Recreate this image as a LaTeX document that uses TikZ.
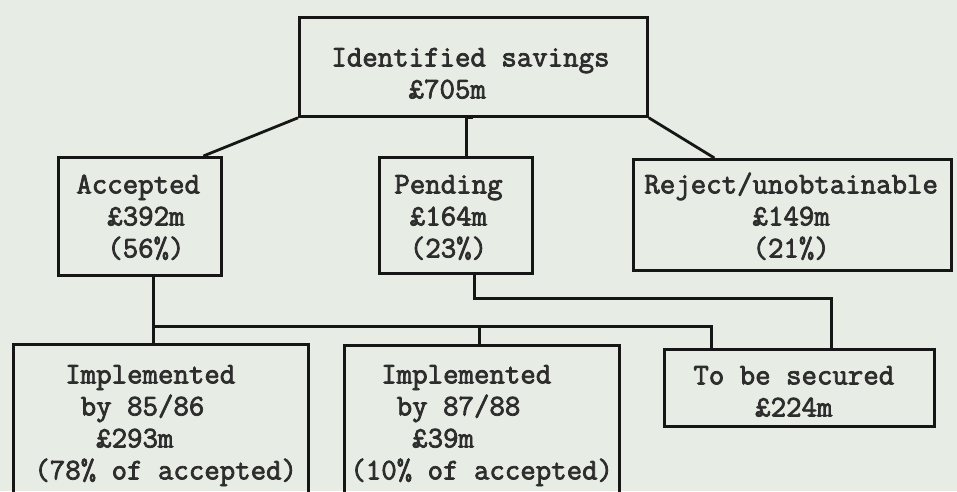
\documentclass[tikz,border=0pt]{standalone}
\usepackage{fontspec}
\newfontfamily\typer{lmmono12-regular.otf}[FakeBold=2.5]
\newcommand\ind[1]{\hspace*{#1\fontcharwd\font`\0}}
\newcommand\up[1]{\rule{0pt}{#1pt}}
\newcommand\dn[1]{\rule[-#1pt]{0pt}{0pt}}
\definecolor{paper}{RGB}{231,236,228}
\definecolor{ink}{RGB}{22,22,22}
\begin{document}
\begin{tikzpicture}[x=1pt,y=-1pt,
    box/.style 2 args={draw=ink,line width=2.8pt,anchor=north west,inner sep=0pt,
        text width=#1pt,align=left,text=ink!90,
        execute at begin node={\leftskip=#2pt\relax\spaceskip=0pt\relax\xspaceskip=0pt\relax},
        font=\typer\fontsize{30}{32}\selectfont},
    link/.style={draw=ink,line width=2.8pt}]
    \useasboundingbox (0,0) rectangle (957,491);
    \fill[paper] (0,0) rectangle (957,491);
    \clip (0,0) rectangle (957,491);
    \node[box={348}{32}] (top) at (298,16) {\up{49}Identified savings\\\ind{5}£705m\dn{18}};
    \node[box={163}{18}] (acc) at (57,156) {\up{36}Accepted\\\ind{2}£392m\\\ind{2}(56\%)\dn{18}};
    \node[box={153}{15}] (pend) at (378,156) {\up{36}Pending\\\ind{1}£164m\\\ind{1}(23\%)\dn{16}};
    \node[box={318}{11}] (rej) at (632,158) {\up{34}Reject/unobtainable\\\ind{7}£149m\\\ind{7}(21\%)\dn{13}};
    \node[box={295}{21}] (imp1) at (12,343) {\up{39}\ind{2}Implemented\\\ind{3}by 85/86\\\ind{4}£293m\\(78\% of accepted)\dn{30}};
    \node[box={275}{6}] (imp2) at (343,344) {\up{38}\ind{2}Implemented\\\ind{3}by 87/88\\\ind{4}£39m\\(10\% of accepted)\dn{30}};
    \node[box={270}{29}] (sec) at (663,348) {\up{35}To be secured\\\ind{4}£224m\dn{10}};
    \draw[link] (top.south west) -- ([xshift=63.5pt]acc.north);
    \draw[link] ([xshift=10.5pt]pend.north) |- (top.south);
    \draw[link] (top.south east) -- ([xshift=-78pt]rej.north);
    \draw[link] ([xshift=13.5pt]acc.south) -- ([xshift=-7.5pt]imp1.north);
    \coordinate (split) at ([xshift=13.5pt,yshift=-50pt]acc.south);
    \draw[link] (split) -| ([xshift=-88pt]sec.north);
    \draw[link] ([xshift=-2.5pt]imp2.north) |- (split);
    \draw[link] ([xshift=18.5pt]pend.south) -- ++(0,24) -| ([xshift=32pt]sec.north);
\end{tikzpicture}
\end{document}
